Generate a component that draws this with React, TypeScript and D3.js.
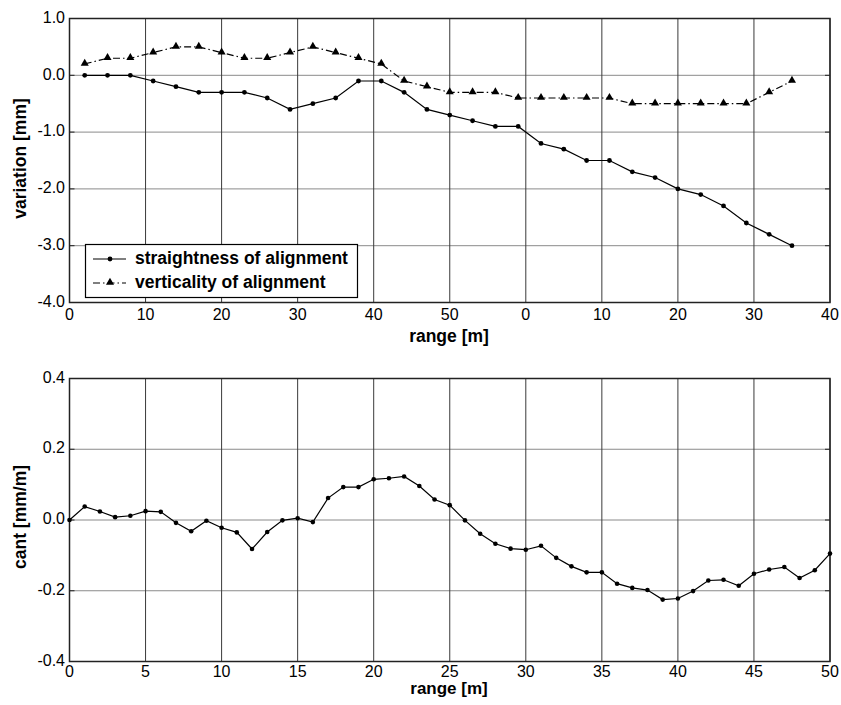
import React from "react";
import * as d3 from "d3";

// ---- Top chart data ----
const topPositions = [2, 5, 8, 11, 14, 17, 20, 23, 26, 29, 32, 35, 38, 41, 44, 47, 50, 53, 56, 59, 62, 65, 68, 71, 74, 77, 80, 83, 86, 89, 92, 95];
const straightness = [0.0, 0.0, 0.0, -0.1, -0.2, -0.3, -0.3, -0.3, -0.4, -0.6, -0.5, -0.4, -0.1, -0.1, -0.3, -0.6, -0.7, -0.8, -0.9, -0.9, -1.2, -1.3, -1.5, -1.5, -1.7, -1.8, -2.0, -2.1, -2.3, -2.6, -2.8, -3.0];
const verticality = [0.2, 0.3, 0.3, 0.4, 0.5, 0.5, 0.4, 0.3, 0.3, 0.4, 0.5, 0.4, 0.3, 0.2, -0.1, -0.2, -0.3, -0.3, -0.3, -0.4, -0.4, -0.4, -0.4, -0.4, -0.5, -0.5, -0.5, -0.5, -0.5, -0.5, -0.3, -0.1];
const topXTicks = [0, 10, 20, 30, 40, 50, 60, 70, 80, 90, 100];
const topXTickLabels = ["0", "10", "20", "30", "40", "50", "0", "10", "20", "30", "40"];
const topYTicks = [1, 0, -1, -2, -3, -4];
const legendLabels = ["straightness of alignment", "verticality of alignment"];

// ---- Bottom chart data ----
const cantPositions = d3.range(0, 51);
const cant = [0.0, 0.038, 0.024, 0.008, 0.012, 0.025, 0.023, -0.008, -0.032, -0.002, -0.022, -0.035, -0.082, -0.034, -0.001, 0.005, -0.006, 0.062, 0.093, 0.093, 0.115, 0.118, 0.123, 0.096, 0.058, 0.042, -0.001, -0.039, -0.067, -0.081, -0.084, -0.073, -0.107, -0.131, -0.148, -0.148, -0.18, -0.192, -0.198, -0.225, -0.222, -0.201, -0.171, -0.169, -0.186, -0.152, -0.14, -0.133, -0.164, -0.142, -0.095];
const botXTicks = [0, 5, 10, 15, 20, 25, 30, 35, 40, 45, 50];
const botYTicks = [0.4, 0.2, 0, -0.2, -0.4];

const FONT = "'Liberation Sans', Arial, Helvetica, sans-serif";
const HGRID = "#8a8a8a";
const VGRID = "#3a3a3a";
const FRAME = "#222";

const fmt1 = (v: number) => d3.format(".1f")(v).replace("\u2212", "-");

function Frame({ x, y }: { x: d3.ScaleLinear<number, number>; y: d3.ScaleLinear<number, number> }) {
  const [x0, x1] = x.range();
  const [y0, y1] = y.range();
  return (
    <rect x={x0} y={y1} width={x1 - x0} height={y0 - y1} fill="none" stroke={FRAME} strokeWidth={1.5} />
  );
}

function Grid({ x, y, xt, yt }: { x: any; y: any; xt: number[]; yt: number[] }) {
  const [x0, x1] = x.range();
  const [y0, y1] = y.range();
  return (
    <g>
      {yt.map((t, i) => (
        <g key={"h" + i}>
          <line x1={x0} x2={x1} y1={y(t)} y2={y(t)} stroke={HGRID} strokeWidth={1} />
          <line x1={x0} x2={x0 + 5} y1={y(t)} y2={y(t)} stroke={FRAME} strokeWidth={1} />
          <line x1={x1 - 5} x2={x1} y1={y(t)} y2={y(t)} stroke={FRAME} strokeWidth={1} />
        </g>
      ))}
      {xt.map((t, i) => (
        <line key={"v" + i} x1={x(t)} x2={x(t)} y1={y0} y2={y1} stroke={VGRID} strokeWidth={1} />
      ))}
    </g>
  );
}

export default function App() {
  const tx = d3.scaleLinear().domain([0, 100]).range([69.5, 830]);
  const ty = d3.scaleLinear().domain([-4, 1]).range([302.5, 18.5]);
  const bx = d3.scaleLinear().domain([0, 50]).range([69.5, 830]);
  const by = d3.scaleLinear().domain([-0.4, 0.4]).range([661.5, 378.5]);

  const lineTop = d3.line<number>().x((_, i) => tx(topPositions[i])).y((d) => ty(d));
  const lineBot = d3.line<number>().x((_, i) => bx(cantPositions[i])).y((d) => by(d));
  const tri = d3.symbol().type(d3.symbolTriangle).size(28)();

  const dash = "7,3,1.5,3";

  return (
    <svg
      width={841}
      height={705}
      style={{ position: "absolute", left: 0, top: 0, background: "#fff" }}
      fontFamily={FONT}
    >
      <rect x={0} y={0} width={841} height={705} fill="#fff" />

      {/* ---------- Top chart ---------- */}
      <Grid x={tx} y={ty} xt={topXTicks} yt={topYTicks} />
      <Frame x={tx} y={ty} />
      {topYTicks.map((t, i) => (
        <text key={i} x={65} y={ty(t)} textAnchor="end" dominantBaseline="middle" fontSize={16} fill="#000">
          {fmt1(t)}
        </text>
      ))}
      {topXTicks.map((t, i) => (
        <text key={i} x={tx(t)} y={316} textAnchor="middle" dominantBaseline="middle" fontSize={16} fill="#000">
          {topXTickLabels[i]}
        </text>
      ))}
      <text x={449} y={337} textAnchor="middle" dominantBaseline="middle" fontSize={17.5} fontWeight="bold">
        range [m]
      </text>
      <text
        transform={`translate(21,${(ty(-4) + ty(1)) / 2 - 2}) rotate(-90)`}
        textAnchor="middle"
        dominantBaseline="middle"
        fontSize={17.5}
        fontWeight="bold"
      >
        variation [mm]
      </text>

      <path d={lineTop(straightness) || ""} fill="none" stroke="#000" strokeWidth={1.2} />
      {straightness.map((v, i) => (
        <circle key={i} cx={tx(topPositions[i])} cy={ty(v)} r={2.4} fill="#000" />
      ))}
      <path d={lineTop(verticality) || ""} fill="none" stroke="#000" strokeWidth={1.2} strokeDasharray={dash} />
      {verticality.map((v, i) => (
        <path key={i} d={tri || ""} transform={`translate(${tx(topPositions[i])},${ty(v) - 0.5})`} fill="#000" />
      ))}

      {/* legend */}
      <rect x={85.5} y={244.5} width={272} height={53} fill="#fff" stroke="#000" strokeWidth={1.2} />
      <line x1={93} x2={126} y1={259} y2={259} stroke="#000" strokeWidth={1.2} />
      <circle cx={110} cy={259} r={2.4} fill="#000" />
      <line x1={93} x2={126} y1={283} y2={283} stroke="#000" strokeWidth={1.2} strokeDasharray={dash} />
      <path d={tri || ""} transform={`translate(110,282.5)`} fill="#000" />
      <text x={135} y={259} dominantBaseline="middle" fontSize={17.5} fontWeight="bold">
        {legendLabels[0]}
      </text>
      <text x={135} y={283} dominantBaseline="middle" fontSize={17.5} fontWeight="bold">
        {legendLabels[1]}
      </text>

      {/* ---------- Bottom chart ---------- */}
      <Grid x={bx} y={by} xt={botXTicks} yt={botYTicks} />
      <Frame x={bx} y={by} />
      {botYTicks.map((t, i) => (
        <text key={i} x={65} y={by(t)} textAnchor="end" dominantBaseline="middle" fontSize={16} fill="#000">
          {fmt1(t)}
        </text>
      ))}
      {botXTicks.map((t, i) => (
        <text key={i} x={bx(t)} y={672.5} textAnchor="middle" dominantBaseline="middle" fontSize={16} fill="#000">
          {String(t)}
        </text>
      ))}
      <text x={449} y={690} textAnchor="middle" dominantBaseline="middle" fontSize={17} fontWeight="bold">
        range [m]
      </text>
      <text
        transform={`translate(21,${(by(-0.4) + by(0.4)) / 2 - 3}) rotate(-90)`}
        textAnchor="middle"
        dominantBaseline="middle"
        fontSize={17.5}
        fontWeight="bold"
      >
        cant [mm/m]
      </text>
      <path d={lineBot(cant) || ""} fill="none" stroke="#000" strokeWidth={1.2} />
      {cant.map((v, i) => (
        <circle key={i} cx={bx(cantPositions[i])} cy={by(v)} r={2.3} fill="#000" />
      ))}
    </svg>
  );
}
